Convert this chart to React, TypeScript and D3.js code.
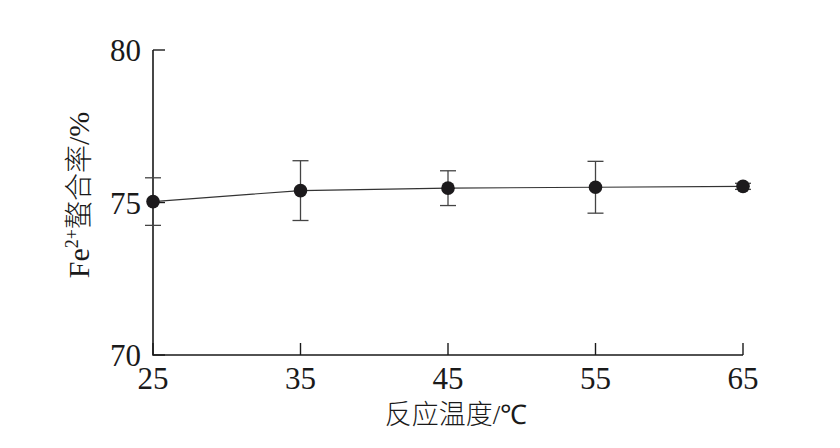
import React from "react";
import * as d3 from "d3";

const temps = [25, 35, 45, 55, 65];
const rates = [75.03, 75.39, 75.47, 75.5, 75.53];
const errors = [0.78, 0.98, 0.57, 0.85, 0.1];
const xTicks = [25, 35, 45, 55, 65];
const yTicks = [70, 75, 80];

export default function App() {
  const W = 840, H = 448;
  const x = d3.scaleLinear().domain([25, 65]).range([153, 743]);
  const y = d3.scaleLinear().domain([70, 80]).range([355, 50]);
  const line = d3.line<number>().x((_, i) => x(temps[i])).y((d) => y(d));
  const serif = "'Liberation Serif', 'Times New Roman', serif";
  const cjk = "'Noto Sans CJK SC', sans-serif";
  const tickLen = 12;
  return (
    <svg width={W} height={H} style={{ position: "absolute", left: 0, top: 0, background: "#fff" }}>
      {/* axes */}
      <path d={`M${x(25)},${y(80)} V${y(70)} H${x(65)}`} fill="none" stroke="#1a1a1a" strokeWidth={1.6} />
      {yTicks.map((t) => (
        <g key={"y" + t}>
          <line x1={x(25)} x2={x(25) + tickLen} y1={y(t)} y2={y(t)} stroke="#1a1a1a" strokeWidth={1.4} />
          <text x={141} y={y(t) + 11} textAnchor="end" fontFamily={serif} fontSize={31} fill="#1a1a1a">{t}</text>
        </g>
      ))}
      {xTicks.map((t) => (
        <g key={"x" + t}>
          <line x1={x(t)} x2={x(t)} y1={y(70)} y2={y(70) - tickLen} stroke="#1a1a1a" strokeWidth={1.4} />
          <text x={x(t)} y={389} textAnchor="middle" fontFamily={serif} fontSize={31} fill="#1a1a1a">{t}</text>
        </g>
      ))}
      {/* line */}
      <path d={line(rates) || ""} fill="none" stroke="#333" strokeWidth={1.1} />
      {/* error bars */}
      {temps.map((t, i) => (
        <g key={"e" + t} stroke="#444" strokeWidth={1.3}>
          <line x1={x(t)} x2={x(t)} y1={y(rates[i] + errors[i])} y2={y(rates[i] - errors[i])} />
          <line x1={x(t) - 8} x2={x(t) + 8} y1={y(rates[i] + errors[i])} y2={y(rates[i] + errors[i])} />
          <line x1={x(t) - 8} x2={x(t) + 8} y1={y(rates[i] - errors[i])} y2={y(rates[i] - errors[i])} />
        </g>
      ))}
      {temps.map((t, i) => (
        <circle key={"p" + t} cx={x(t)} cy={y(rates[i])} r={6.8} fill="#1c1a1c" />
      ))}
      {/* axis labels */}
      <text x={456} y={424} textAnchor="middle" fontSize={27} fill="#1a1a1a">
        <tspan fontFamily={cjk} fontWeight={300}>反应温度</tspan>
        <tspan fontFamily={serif}>/℃</tspan>
      </text>
      <text transform={`translate(89,${195}) rotate(-90)`} textAnchor="middle" fontSize={28} fill="#1a1a1a">
        <tspan fontFamily={serif} fontSize={30}>Fe</tspan>
        <tspan fontFamily={serif} fontSize={18} dy={-11}>2+</tspan>
        <tspan fontFamily={cjk} fontWeight={300} dy={11}>螯合率</tspan>
        <tspan fontFamily={serif} fontSize={30}>/%</tspan>
      </text>
    </svg>
  );
}
